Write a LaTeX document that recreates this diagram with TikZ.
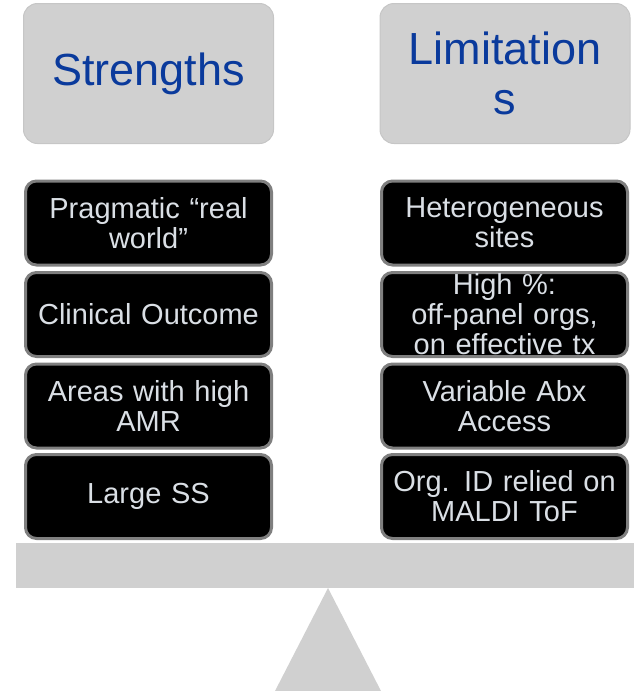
\documentclass[tikz,border=0pt]{standalone}
\usepackage{fontspec}
\setmainfont{Liberation Sans}
\definecolor{panelgray}{HTML}{D0D0D0}
\definecolor{panelline}{HTML}{C6C6C6}
\definecolor{itemline}{HTML}{7F7F7F}
\definecolor{itemtext}{HTML}{DADFE5}
\definecolor{headblue}{HTML}{0A3A9C}
\begin{document}
\begin{tikzpicture}[x=1pt,y=-1pt,
  header/.style={draw=panelline, line width=1pt, fill=panelgray, rounded corners=14pt,
    minimum width=250pt, minimum height=140pt, inner sep=0pt, align=center,
    text=headblue, font=\fontsize{45}{50}\selectfont},
  item/.style={draw=itemline, line width=3pt, fill=black, rounded corners=11pt,
    minimum width=246pt, minimum height=84pt, inner sep=0pt, align=center,
    text=itemtext, text width=240pt, font=\fontsize{29}{30}\selectfont},
  weight/.style={fill=panelgray, draw=none}]
\useasboundingbox (0,0) rectangle (634,691);

% column headings
\node[header] (hs) at (148.5,73.5) {Strengths};
\node[header] (hl) at (505,73.5) {Limitation\\s};

% left pan: strengths
\node[item] (s1) at (148.5,223) {Pragmatic “real\\world”};
\node[item] (s2) at (148.5,314.5) {Clinical Outcome};
\node[item] (s3) at (148.5,406) {Areas with high\\AMR};
\node[item] (s4) at (148.5,496.5) {Large SS};

% right pan: limitations
\node[item] (l1) at (504.5,223) {Heterogeneous\\sites};
\node[item] (l2) at (504.5,314.5) {High \%:\\off-panel orgs,\\on effective tx};
\node[item] (l3) at (504.5,406) {Variable Abx\\Access};
\node[item] (l4) at (504.5,496.5) {Org. ID relied on\\MALDI ToF};

% balance beam and fulcrum
\fill[weight] (16,543) rectangle (634,588);
\fill[weight] (328,588) -- (381,691) -- (275,691) -- cycle;
\end{tikzpicture}
\end{document}
